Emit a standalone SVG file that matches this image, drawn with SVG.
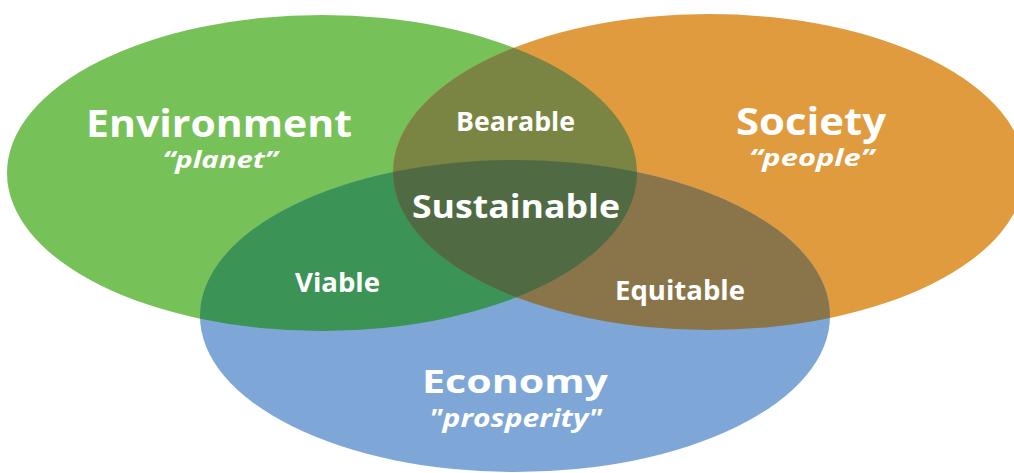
<svg xmlns="http://www.w3.org/2000/svg" width="1014" height="473" viewBox="0 0 1014 473">
  <style>
    .lbl { fill: #ffffff; font-family: "Open Sans", "Noto Sans", "Liberation Sans", sans-serif; font-weight: 700; text-anchor: middle; }
    .sub { font-style: italic; }
  </style>
  <defs>
    <ellipse id="eG" cx="322" cy="173" rx="315" ry="158"/>
    <ellipse id="eO" cx="709" cy="172" rx="316" ry="158"/>
    <ellipse id="eB" cx="515" cy="316" rx="315" ry="156"/>
    <clipPath id="cG"><use href="#eG"/></clipPath>
    <clipPath id="cO"><use href="#eO"/></clipPath>
  </defs>
  <rect x="0" y="0" width="1014" height="473" fill="#ffffff"/>
  <g id="environment">
    <use href="#eG" fill="#77C159"/>
  </g>
  <g id="society">
    <use href="#eO" fill="#E09B3F"/>
  </g>
  <g id="economy">
    <use href="#eB" fill="#7EA7D8"/>
  </g>
  <g id="bearable">
    <use href="#eO" fill="#7B8543" clip-path="url(#cG)"/>
  </g>
  <g id="viable">
    <use href="#eB" fill="#3C9356" clip-path="url(#cG)"/>
  </g>
  <g id="equitable">
    <use href="#eB" fill="#8A754B" clip-path="url(#cO)"/>
  </g>
  <g id="sustainable">
    <g clip-path="url(#cO)">
      <use href="#eB" fill="#506B43" clip-path="url(#cG)"/>
    </g>
  </g>
  <g id="connectors"></g>
  <g id="labels">
    <text class="lbl" x="219" y="137" font-size="37" textLength="266" lengthAdjust="spacingAndGlyphs">Environment</text>
    <text class="lbl sub" x="220" y="168" font-size="24" textLength="115" lengthAdjust="spacingAndGlyphs">“planet”</text>
    <text class="lbl" x="811" y="135" font-size="37" textLength="150" lengthAdjust="spacingAndGlyphs">Society</text>
    <text class="lbl sub" x="811.5" y="166" font-size="24" textLength="125" lengthAdjust="spacingAndGlyphs">“people”</text>
    <text class="lbl" x="515.5" y="131" font-size="27" textLength="119" lengthAdjust="spacingAndGlyphs">Bearable</text>
    <text class="lbl" x="516" y="218" font-size="33" textLength="208" lengthAdjust="spacingAndGlyphs">Sustainable</text>
    <text class="lbl" x="337.5" y="292" font-size="27" textLength="85" lengthAdjust="spacingAndGlyphs">Viable</text>
    <text class="lbl" x="680" y="300" font-size="26" textLength="130" lengthAdjust="spacingAndGlyphs">Equitable</text>
    <text class="lbl" x="515" y="393" font-size="32" textLength="186" lengthAdjust="spacingAndGlyphs">Economy</text>
    <text class="lbl sub" x="515.5" y="427" font-size="25" textLength="173" lengthAdjust="spacingAndGlyphs">"prosperity"</text>
  </g>
</svg>
